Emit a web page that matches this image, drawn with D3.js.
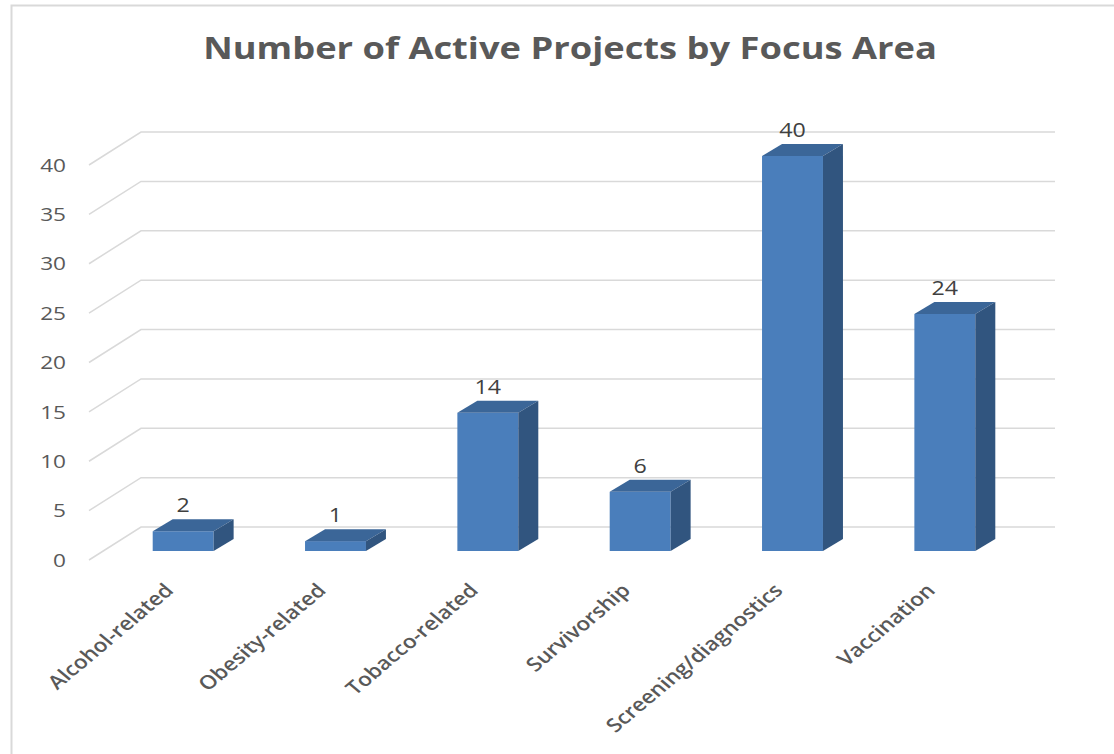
<!DOCTYPE html>
<html>
<head>
<meta charset="utf-8">
<script src="https://cdn.jsdelivr.net/npm/d3@7"></script>
<style>
  body { margin: 0; background: #fff; }
  text { font-family: "Open Sans", "Liberation Sans", sans-serif; }
</style>
</head>
<body>
<svg id="canvas" width="1114" height="754"></svg>
<script>
let categories = ['Alcohol-related', 'Obesity-related', 'Tobacco-related', 'Survivorship', 'Screening/diagnostics', 'Vaccination']
let values = [2, 1, 14, 6, 40, 24]
let yTicks = [0, 5, 10, 15, 20, 25, 30, 35, 40]

let svg = d3.select('#canvas')

// picture is a bit stretched sideways, text follows it
let stretch = 1.19
let depth = [52, -33]      // floor depth (front plane -> back wall)
let barShift = [18, -9]    // bars sit a little behind the front plane
let barDepth = [20, -12]

let y = d3.scaleLinear().domain([0, 40]).range([560, 165])
let x = d3.scaleBand().domain(categories).range([89, 1003]).paddingInner(0.6).paddingOuter(0.3)

// chart border (top + left only)
svg.append('path')
    .attr('d', 'M11.5,754 V5.5 H1114')
    .attr('fill', 'none')
    .attr('stroke', '#d9d9d9')
    .attr('stroke-width', 2)

// title
svg.append('text')
    .attr('transform', 'translate(570,59) scale(' + stretch + ',1)')
    .attr('text-anchor', 'middle')
    .attr('font-size', 30.5)
    .attr('font-weight', 700)
    .attr('fill', '#595959')
    .text('Number of Active Projects by Focus Area')

// gridlines: side wall diagonal + back wall
let x0 = x.range()[0], x1 = x.range()[1]
let grid = svg.append('g')
    .attr('fill', 'none')
    .attr('stroke', '#d9d9d9')
    .attr('stroke-width', 1.5)

grid.selectAll('path')
    .data(yTicks)
    .enter()
    .append('path')
    .attr('d', (t) => {
        let yf = y(t)
        return 'M' + x0 + ',' + yf +
            ' L' + (x0 + depth[0]) + ',' + (yf + depth[1]) +
            ' H' + (x1 + depth[0])
    })

// y tick labels
svg.append('g')
    .selectAll('text')
    .data(yTicks)
    .enter()
    .append('text')
    .attr('transform', (t) => 'translate(66,' + y(t) + ') scale(' + stretch + ',1)')
    .attr('text-anchor', 'end')
    .attr('dy', '0.35em')
    .attr('font-size', 19)
    .attr('fill', '#595959')
    .text((t) => t)

// bars
let bars = svg.append('g')
    .selectAll('g')
    .data(categories.map((c, i) => ({ cat: c, val: values[i] })))
    .enter()
    .append('g')

let L = (d) => x(d.cat) + barShift[0]
let R = (d) => x(d.cat) + x.bandwidth() + barShift[0]
let T = (d) => y(d.val) + barShift[1]
let B = (d) => y(0) + barShift[1]

bars.append('rect')
    .attr('x', L)
    .attr('y', T)
    .attr('width', x.bandwidth())
    .attr('height', (d) => B(d) - T(d))
    .attr('fill', '#4a7ebb')

bars.append('path')
    .attr('d', (d) => 'M' + L(d) + ',' + T(d) +
        ' L' + R(d) + ',' + T(d) +
        ' L' + (R(d) + barDepth[0]) + ',' + (T(d) + barDepth[1]) +
        ' L' + (L(d) + barDepth[0]) + ',' + (T(d) + barDepth[1]) + 'Z')
    .attr('fill', '#3b6698')

bars.append('path')
    .attr('d', (d) => 'M' + R(d) + ',' + T(d) +
        ' L' + (R(d) + barDepth[0]) + ',' + (T(d) + barDepth[1]) +
        ' L' + (R(d) + barDepth[0]) + ',' + (B(d) + barDepth[1]) +
        ' L' + R(d) + ',' + B(d) + 'Z')
    .attr('fill', '#31557f')

// value labels
bars.append('text')
    .attr('transform', (d) => 'translate(' + (L(d) + x.bandwidth() / 2) + ',' + (T(d) + barDepth[1] - 7) + ') scale(' + stretch + ',1)')
    .attr('text-anchor', 'middle')
    .attr('font-size', 19.5)
    .attr('fill', '#404040')
    .text((d) => d.val)

// category labels, rotated
svg.append('g')
    .selectAll('text')
    .data(categories)
    .enter()
    .append('text')
    .attr('transform', (c) => 'translate(' + (x(c) + x.bandwidth() / 2 + barShift[0] - 14) + ',587) scale(' + stretch + ',1) rotate(-45)')
    .attr('text-anchor', 'end')
    .attr('dy', '0.35em')
    .attr('font-size', 19)
    .attr('font-weight', 600)
    .attr('fill', '#595959')
    .text((c) => c)
</script>
</body>
</html>
